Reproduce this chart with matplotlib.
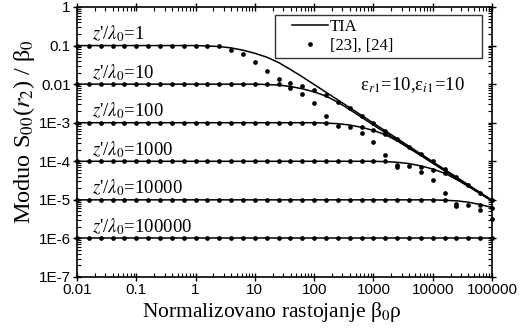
import numpy as np
import matplotlib
matplotlib.use("Agg")
import matplotlib.pyplot as plt
from matplotlib.ticker import LogLocator, NullFormatter
from matplotlib.lines import Line2D
from matplotlib.legend_handler import HandlerLine2D

plt.rcParams['font.family'] = ['Liberation Serif', 'DejaVu Serif']
plt.rcParams['mathtext.fontset'] = 'stix'

# ---------------- data (log10 values) ----------------
z_labels = ["1", "10", "100", "1000", "10000", "100000"]
flat_levels = [-1, -2, -3, -4, -5, -6]

# TIA curves: log10(x), log10(y)
tia_z1_lx = [-2, 0, 0.2, 0.4, 0.6, 0.8, 1.0, 1.2, 1.4, 1.6, 1.8, 2.0, 2.2, 2.5, 3.0, 3.5, 4.0, 4.5, 5.0]
tia_z1_ly = [-1, -1, -1.01, -1.025, -1.06, -1.12, -1.2, -1.3, -1.44, -1.62, -1.81, -2.01, -2.21, -2.51, -3.01, -3.51, -4.01, -4.51, -5.01]
tia_z10_lx = [-2, 1.0, 1.2, 1.4, 1.6, 1.8, 2.0, 2.2, 2.4, 2.6, 2.8, 3.0, 3.5, 4.0, 4.5, 5.0]
tia_z10_ly = [-2, -2, -2.01, -2.025, -2.06, -2.12, -2.2, -2.31, -2.47, -2.66, -2.86, -3.06, -3.55, -4.04, -4.53, -5.02]
tia_z100_lx = [-2, 2.0, 2.2, 2.4, 2.6, 2.8, 3.0, 3.2, 3.4, 3.6, 3.8, 4.0, 4.5, 5.0]
tia_z100_ly = [-3, -3, -3.01, -3.025, -3.06, -3.12, -3.2, -3.31, -3.47, -3.66, -3.85, -4.05, -4.54, -5.02]
tia_z1000_lx = [-2, 3.0, 3.2, 3.4, 3.6, 3.8, 4.0, 4.2, 4.4, 4.6, 4.8, 5.0]
tia_z1000_ly = [-4, -4, -4.01, -4.025, -4.06, -4.12, -4.2, -4.31, -4.47, -4.65, -4.84, -5.03]
tia_z10000_lx = [-2, 4.0, 4.2, 4.4, 4.6, 4.8, 5.0]
tia_z10000_ly = [-5, -5, -5.01, -5.025, -5.06, -5.12, -5.2]
tia_z100000_lx = [-2, 5.0]
tia_z100000_ly = [-6, -6]

# reference points [23],[24] on grid log10(x) = -2.0, -1.8, ..., 5.0
grid_lx = [-2.0, -1.8, -1.6, -1.4, -1.2, -1.0, -0.8, -0.6, -0.4, -0.2,
           0.0, 0.2, 0.4, 0.6, 0.8, 1.0, 1.2, 1.4, 1.6, 1.8,
           2.0, 2.2, 2.4, 2.6, 2.8, 3.0, 3.2, 3.4, 3.6, 3.8,
           4.0, 4.2, 4.4, 4.6, 4.8, 5.0]
dots_z1 = [-1, -1, -1, -1, -1, -1, -1, -1, -1, -1,
           -1, -1, -1.02, -1.11, -1.23, -1.42, -1.66, -1.87, -1.98, -2.05,
           -2.14, -2.28, -2.45, -2.62, -2.82, -3.01, -3.22, -3.42, -3.62, -3.81,
           -4.0, -4.21, -4.41, -4.61, -4.81, -5.01]
dots_z10 = [-2, -2, -2, -2, -2, -2, -2, -2, -2, -2,
            -2, -2, -2, -2, -2, -2, -2, -2, -2.1, -2.26,
            -2.5, -2.82]
dots_z100 = [-3, -3, -3, -3, -3, -3, -3, -3, -3, -3,
             -3, -3, -3, -3, -3, -3, -3, -3, -3, -3,
             -3, -3.02, -3.08, -3.12, -3.1, -3.2, -3.3]
dots_z1000 = [-4, -4, -4, -4, -4, -4, -4, -4, -4, -4,
              -4, -4, -4, -4, -4, -4, -4, -4, -4, -4,
              -4, -4, -4, -4, -4, -4, -4, -4.1, -4.12, -4.14,
              -4.22, -4.3]
dots_z10000 = [-5, -5, -5, -5, -5, -5, -5, -5, -5, -5,
               -5, -5, -5, -5, -5, -5, -5, -5, -5, -5,
               -5, -5, -5, -5, -5, -5, -5, -5, -5, -5,
               -5, -5, -5.1, -5.13, -5.14, -5.2]
dots_z100000 = [-6, -6, -6, -6, -6, -6, -6, -6, -6, -6,
                -6, -6, -6, -6, -6, -6, -6, -6, -6, -6,
                -6, -6, -6, -6, -6, -6, -6, -6, -6, -6,
                -6, -6, -6, -6, -6, -6]
# second set of deviating points
extra_lx = [2.8, 3.0, 3.2, 3.4, 3.8, 4.0, 4.2, 4.4, 4.8, 5.0]
extra_ly = [-3.26, -3.49, -3.83, -4.14, -4.27, -4.49, -4.83, -5.17, -5.27, -5.5]

x_ticks = [0.01, 0.1, 1, 10, 100, 1000, 10000, 100000]
x_ticklabels = ["0.01", "0.1", "1", "10", "100", "1000", "10000", "100000"]
y_ticks = [1e-7, 1e-6, 1e-5, 1e-4, 1e-3, 0.01, 0.1, 1]
y_ticklabels = ["1E-7", "1E-6", "1E-5", "1E-4", "1E-3", "0.01", "0.1", "1"]

# ---------------- figure ----------------
fig = plt.figure(figsize=(5.28, 3.31), dpi=100)
ax = fig.add_axes([77/528, 1-277/331, 415/528, 270/331])
ax.set_xscale('log')
ax.set_yscale('log')
ax.set_xlim(0.01, 100000)
ax.set_ylim(1e-7, 1)

p10 = lambda v: np.power(10.0, np.asarray(v, dtype=float))

tia = [(tia_z1_lx, tia_z1_ly), (tia_z10_lx, tia_z10_ly), (tia_z100_lx, tia_z100_ly),
       (tia_z1000_lx, tia_z1000_ly), (tia_z10000_lx, tia_z10000_ly),
       (tia_z100000_lx, tia_z100000_ly)]
for lx, ly in tia:
    ax.plot(p10(lx), p10(ly), color='black', lw=1.1, solid_joinstyle='round')

dots = [dots_z1, dots_z10, dots_z100, dots_z1000, dots_z10000, dots_z100000]
for d in dots:
    ax.plot(p10(grid_lx[:len(d)]), p10(d), 'o', color='black', ms=3.4,
            mec='black', mew=0, clip_on=False, zorder=3)
ax.plot(p10(extra_lx), p10(extra_ly), 'o', color='black', ms=3.4, mew=0,
        clip_on=False, zorder=3)

for lab, lev in zip(z_labels, flat_levels):
    ax.text(0.0178, 10.0**(lev + 0.16), r"$z$'/$\lambda_0$=" + lab, fontsize=13.5,
            ha='left', va='baseline')

ax.text(590, 10.0**(-2.02), r"ε$_{r1}$=10,ε$_{i1}$=10", fontsize=13.5,
        ha='left', va='center')

ax.set_xticks(x_ticks)
ax.set_xticklabels(x_ticklabels)
ax.set_yticks(y_ticks)
ax.set_yticklabels(y_ticklabels)
ax.xaxis.set_minor_locator(LogLocator(base=10, subs=np.arange(2, 10), numticks=100))
ax.yaxis.set_minor_locator(LogLocator(base=10, subs=np.arange(2, 10), numticks=100))
ax.xaxis.set_minor_formatter(NullFormatter())
ax.yaxis.set_minor_formatter(NullFormatter())
for lbl in ax.get_xticklabels() + ax.get_yticklabels():
    lbl.set_fontfamily('Liberation Sans')
    lbl.set_fontsize(11)
ax.tick_params(which='major', direction='inout', length=6, width=1.0,
               top=True, right=True, pad=1.5)
ax.tick_params(which='minor', direction='in', length=3, width=0.8,
               top=True, right=True)
for s in ax.spines.values():
    s.set_linewidth(1.2)

ax.set_xlabel(r"Normalizovano rastojanje β$_0$ρ", fontsize=15.5, labelpad=1)
ax.xaxis.set_label_coords((271.5-77)/415, -0.085)
ax.xaxis.label.set_va('top')
fig.text(24/528, 1-132/331, r"Moduo S$_{00}$($r_2$) / β$_0$", fontsize=17.5,
         rotation=90, ha='center', va='center')

handles = [Line2D([], [], color='black', lw=1.1),
           Line2D([], [], ls='none', marker='o', color='black', ms=3.4, mew=0)]
hmap = {handles[0]: HandlerLine2D(xpad=0.77), handles[1]: HandlerLine2D(xpad=0.77, numpoints=1)}
leg = ax.legend(handles, ["TIA", "[23], [24]"], loc='upper left',
                bbox_to_anchor=(0.477, 0.0, 0.499, 0.97), mode='expand',
                fontsize=12, frameon=True, fancybox=False, edgecolor='black',
                borderaxespad=0, handlelength=2.93, handletextpad=0.12,
                labelspacing=0.15, borderpad=0.25, numpoints=1, handler_map=hmap)
leg.get_frame().set_linewidth(1.0)

fig.savefig("out.png", dpi=100)
